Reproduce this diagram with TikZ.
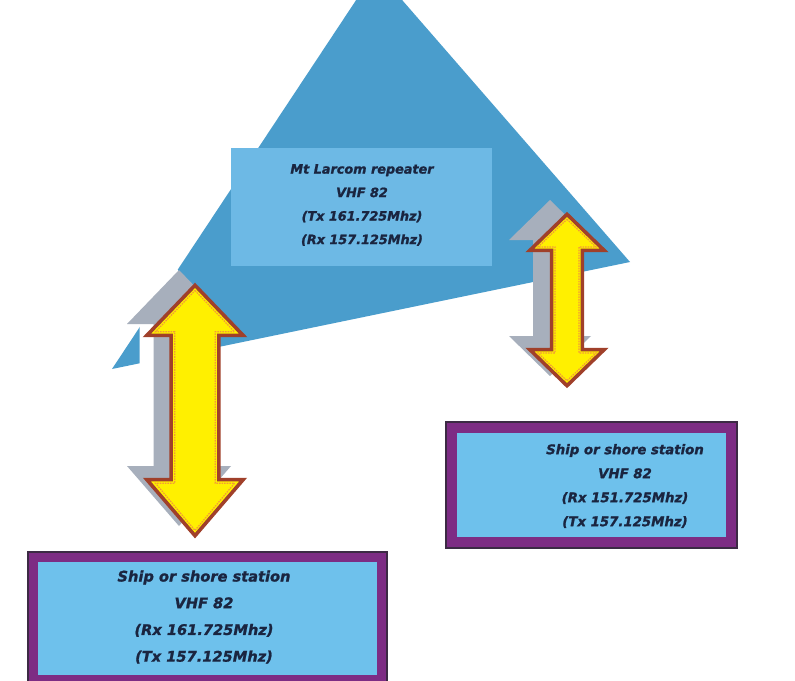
\documentclass[tikz,border=0pt]{standalone}
\usepackage{fontspec}
\newfontfamily\lblfont{DejaVu Sans}[BoldItalicFeatures={FakeBold=1.3}]
\definecolor{triblue}{HTML}{4A9DCC}
\definecolor{boxblue}{HTML}{6DB9E5}
\definecolor{stblue}{HTML}{6EC1EC}
\definecolor{stpurple}{HTML}{7D2C84}
\definecolor{stedge}{HTML}{3C2A44}
\definecolor{navy}{HTML}{1A2540}
\definecolor{ayellow}{HTML}{FFF000}
\definecolor{abrown}{HTML}{A0402A}
\definecolor{aorange}{HTML}{F29A38}
\definecolor{agray}{HTML}{A7AFBC}
\tikzset{
  tri/.style={fill=triblue},
  repbox/.style={fill=boxblue, inner sep=0pt, outer sep=0pt},
  stbox/.style={fill=stblue, draw=stpurple, inner sep=0pt},
  stedgeline/.style={draw=stedge, line width=1.2pt},
  lbl/.style={text=navy, align=center, inner sep=0pt},
  arrfill/.style={fill=ayellow, draw=abrown, line width=3.6pt, line join=miter},
  arrinner/.style={draw=aorange, line width=1.2pt, dash pattern=on 1.6pt off 1pt, line join=miter},
  arrshadow/.style={fill=agray},
  arrhalo/.style={fill=white},
}
% #1 cx, #2 top tip y, #3 bottom tip y, #4 head half width, #5 top head length,
% #6 bottom head length, #7 shaft half width, #8 inset, #9 style
\newcommand\dblarrow[9]{%
  \pgfmathsetmacro\arT{#2+1.45*#8}%
  \pgfmathsetmacro\arB{#3-1.45*#8}%
  \pgfmathsetmacro\arTb{#2+#5-#8}%
  \pgfmathsetmacro\arBb{#3-#6+#8}%
  \pgfmathsetmacro\arHl{#1-#4+2.4*#8}%
  \pgfmathsetmacro\arHr{#1+#4-2.4*#8}%
  \pgfmathsetmacro\arSl{#1-#7+#8}%
  \pgfmathsetmacro\arSr{#1+#7-#8}%
  \path[#9] (#1,\arT) -- (\arHr,\arTb) -- (\arSr,\arTb) -- (\arSr,\arBb)
    -- (\arHr,\arBb) -- (#1,\arB) -- (\arHl,\arBb) -- (\arSl,\arBb)
    -- (\arSl,\arTb) -- (\arHl,\arTb) -- cycle;}
\begin{document}
\begin{tikzpicture}[x=1pt,y=-1pt]
\useasboundingbox (0,0) rectangle (795,680);
\clip (0,0) rectangle (795,680);
\fill[white] (0,0) rectangle (795,680);

% coverage triangle
\fill[tri] (376,-30) -- (630,262) -- (112,369) -- cycle;

% repeater box
\node[repbox, minimum width=261pt, minimum height=118pt] (rep) at (361.5,207) {};
\node[lbl, font=\lblfont\bfseries\itshape\fontsize{12.8}{23.5}\selectfont] (reptext) at (362,205)
  {Mt Larcom repeater\\VHF 82\\(Tx 161.725Mhz)\\(Rx 157.125Mhz)};

% left link arrow
\coordinate (latop) at (195,283);
\coordinate (labot) at (195,538);
\dblarrow{165}{257}{512}{52}{54}{60}{25.5}{0}{arrhalo}
\dblarrow{179}{270}{526}{52}{54}{60}{25.5}{0}{arrshadow}
\dblarrow{195}{283}{538}{52}{54}{60}{25.5}{1.6}{arrfill}
\dblarrow{195}{283}{538}{52}{54}{60}{25.5}{5.2}{arrinner}

% right link arrow
\coordinate (ratop) at (567,212);
\coordinate (rabot) at (567,388);
\dblarrow{550}{200}{376}{41}{40}{40}{17}{0}{arrshadow}
\dblarrow{567}{212}{388}{41}{40}{40}{17}{1.6}{arrfill}
\dblarrow{567}{212}{388}{41}{40}{40}{17}{5}{arrinner}

% right station
\node[stbox, line width=11pt, minimum width=280pt, minimum height=115pt] (rs) at (591.5,485) {};
\draw[stedgeline] (rs.south west) rectangle (rs.north east);
\node[lbl, font=\lblfont\bfseries\itshape\fontsize{13.3}{24}\selectfont] (rstext) at (625,486)
  {Ship or shore station\\VHF 82\\(Rx 151.725Mhz)\\(Tx 157.125Mhz)};

% left station
\node[stbox, line width=10pt, minimum width=349pt, minimum height=123pt] (ls) at (207.5,618.5) {};
\draw[stedgeline] (ls.south west) rectangle (ls.north east);
\node[lbl, font=\lblfont\bfseries\itshape\fontsize{14.6}{26.7}\selectfont] (lstext) at (204,617)
  {Ship or shore station\\VHF 82\\(Rx 161.725Mhz)\\(Tx 157.125Mhz)};
\end{tikzpicture}
\end{document}
